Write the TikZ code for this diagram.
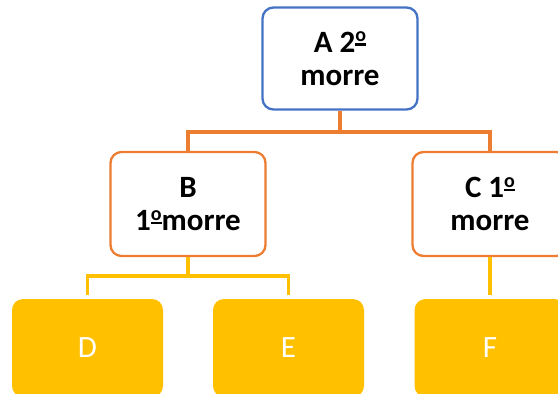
\documentclass[tikz,border=0pt]{standalone}
\usepackage{fontspec}
\setmainfont{Carlito}
\definecolor{boxblue}{HTML}{4472C4}
\definecolor{boxorange}{HTML}{ED7D31}
\definecolor{boxgold}{HTML}{FFC000}
% masculine ordinal indicator: raised small o over a bar
\newcommand{\ordo}{\raisebox{0.2em}{\vbox{\hbox{\fontsize{20}{20}\selectfont\bfseries o}\kern1.6pt\hrule height 2.4pt}}}
\begin{document}
\begin{tikzpicture}[x=1pt,y=-1pt,
  card/.style={rectangle, rounded corners=11pt, line width=2.3pt, fill=white,
    align=center, inner sep=0pt, font=\fontsize{31}{33}\selectfont\bfseries},
  topcard/.style={card, draw=boxblue, minimum width=155pt, minimum height=102pt},
  midcard/.style={card, draw=boxorange, minimum width=155pt, minimum height=104pt},
  leaf/.style={rectangle, rounded corners=11pt, fill=boxgold, draw=none,
    minimum width=151pt, minimum height=98pt, text=white,
    font=\fontsize{31}{33}\selectfont},
  orangelink/.style={draw=boxorange, line width=3.8pt},
  goldlink/.style={draw=boxgold, line width=3.8pt}]
\useasboundingbox (0,0) rectangle (558,394);
\clip (0,0) rectangle (558,394);

% junction points of the two tree levels
\coordinate (jA) at (340,132);
\coordinate (jB) at (188,276);

% boxes
\node[topcard] (A) at (340,58.5) {A 2\ordo\\morre};
\node[midcard] (B) at (188,204) {B\\1\ordo morre};
\node[midcard] (C) at (490,204) {C 1\ordo\\morre};
\node[leaf] (D) at (87.5,348) {D};
\node[leaf] (E) at (288.5,348) {E};
\node[leaf] (F) at (490,348) {F};

% orange tree level
\draw[orangelink] (A.south) -- (jA);
\draw[orangelink] (B.north) |- (jA) -| (C.north);

% gold tree level
\draw[goldlink] (B.south) -- (jB);
\draw[goldlink, shorten >=4pt] (jB) -| (D.north);
\draw[goldlink, shorten >=4pt] (jB) -| (E.north);
\draw[goldlink, shorten >=4pt] (C.south) -- (F.north);
\end{tikzpicture}
\end{document}
